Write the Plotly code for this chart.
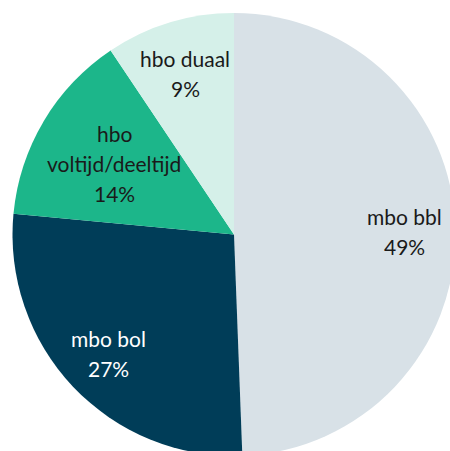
import math
import plotly.graph_objects as go

categories = ["mbo bbl", "mbo bol", "hbo<br>voltijd/deeltijd", "hbo duaal"]
values = [49.4, 27.1, 14.1, 9.4]
pct_labels = ["49%", "27%", "14%", "9%"]

colors = ["#d8e1e7", "#003d58", "#1cb68a", "#d5f0e9"]
text_colors = ["#1a1a1a", "#ffffff", "#1a1a1a", "#1a1a1a"]
label_radius = [0.77, 0.78, 0.63, 0.76]   # fraction of pie radius for label placement

W, H = 456, 456
ML, MT = 12, 13
PW, PH = W - ML, H - MT
R = min(PW, PH) / 2.0
FONT = dict(family="Lato", size=21, weight=400)
LINE = 30

fig = go.Figure(go.Pie(
    labels=categories,
    values=values,
    sort=False,
    direction="clockwise",
    rotation=0,
    marker=dict(colors=colors, line=dict(width=0)),
    textinfo="none",
    hoverinfo="skip",
    showlegend=False,
))

total = sum(values)
cum = 0.0
for cat, v, pct, tc, rf in zip(categories, values, pct_labels, text_colors, label_radius):
    mid = (cum + v / 2) / total * 2 * math.pi
    cum += v
    dx = rf * R * math.sin(mid)
    dy = rf * R * math.cos(mid)
    x = 0.5 + dx / PW
    y = 0.5 + dy / PH
    lines = cat.split("<br>") + [pct]
    n = len(lines)
    for i, ln in enumerate(lines):
        shift = ((n - 1) / 2 - i) * LINE
        fig.add_annotation(
            x=x, y=y, xref="paper", yref="paper",
            text=ln, showarrow=False, yshift=shift,
            xanchor="center", yanchor="middle",
            font=dict(color=tc, **FONT),
        )

fig.update_layout(
    width=W, height=H,
    margin=dict(l=ML, t=MT, r=0, b=0),
    paper_bgcolor="white",
    plot_bgcolor="white",
)

fig.write_html(
    "out.html",
    config={"displayModeBar": False},
    post_script="document.body.style.margin='0';document.body.style.overflow='hidden';",
)
